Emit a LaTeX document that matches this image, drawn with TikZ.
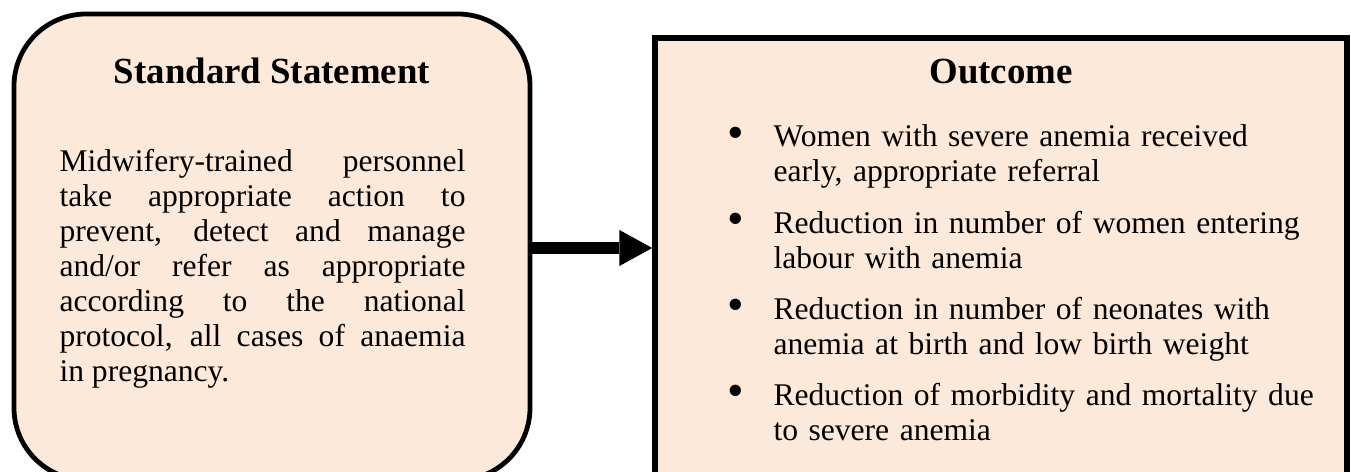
\documentclass[tikz,border=0pt]{standalone}
\usepackage{fontspec}
\setmainfont{Liberation Serif}
\usetikzlibrary{arrows.meta}
\definecolor{peach}{HTML}{FDE9D9}
% bullet hanging to the left of an item's first line
\newcommand\itemdot{\leavevmode\llap{\makebox[17.5pt][l]{\raisebox{-0.7pt}{\scalebox{1.5}{•}}}}}
\tolerance=10000
\hbadness=10000
\begin{document}
\begin{tikzpicture}[x=0.38pt,y=-0.38pt,
  panel/.style={draw=black, fill=peach, inner sep=0pt},
  heading/.style={font=\fontsize{14}{16}\selectfont\bfseries, inner sep=0pt, anchor=base},
  bodytext/.style={font=\fontsize{12}{13.3}\selectfont, inner sep=0pt, anchor=base west},
  bigarrow/.style={line width=4.56pt, -{Triangle[length=12.5pt,width=13.7pt,line width=0pt]}}]
\clip (0,0) rectangle (1351,472);
% the two panels
\node[panel, line width=1.82pt, rounded corners=27.4pt,
      minimum width=196.08pt, minimum height=177.08pt] (L) at (272,247) {};
\node[panel, line width=2.09pt,
      minimum width=262.96pt, minimum height=167.96pt] (R) at (1001,259) {};
% connecting arrow
\coordinate (arr) at (0,248);
\draw[bigarrow] (L.east |- arr) -- (R.west |- arr);
% headings
\node[heading] (Lh) at (272,84) {Standard Statement};
\node[heading] (Rh) at (1001,84) {Outcome};
% statement text
\node[bodytext, text width=154.28pt, align=justify] (Lb) at (59,172)
 {Midwifery-trained personnel\linebreak
  take appropriate action to\linebreak
  prevent, detect and manage\linebreak
  and/or refer as appropriate\linebreak
  according to the national\linebreak
  protocol, all cases of anaemia\linebreak
  in pregnancy.};
% outcome list
\node[bodytext, text width=240pt, align=left] (Rb) at (773,147)
 {\itemdot Women with severe anemia received\\
  early, appropriate referral\\[6.1pt]
  \itemdot Reduction in number of women entering\\
  labour with anemia\\[6.1pt]
  \itemdot Reduction in number of neonates with\\
  anemia at birth and low birth weight\\[6.1pt]
  \itemdot Reduction of morbidity and mortality due\\
  to severe anemia};
\end{tikzpicture}
\end{document}
